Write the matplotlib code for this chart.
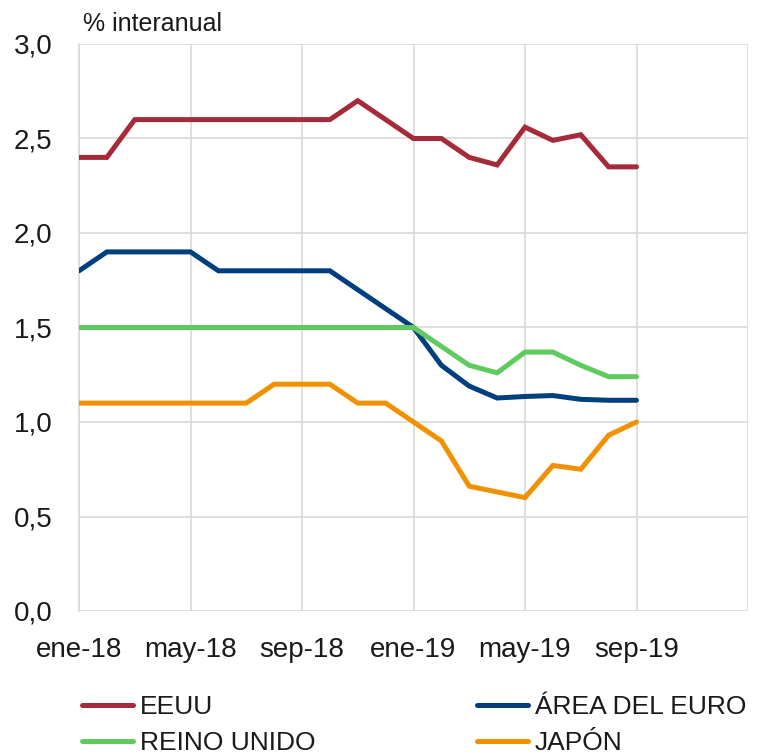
import matplotlib
matplotlib.use("Agg")
import matplotlib.pyplot as plt
from matplotlib.lines import Line2D

plt.rcParams['font.family'] = ['Liberation Sans', 'DejaVu Sans']

months = list(range(21))
tick_labels = ["ene-18", "may-18", "sep-18", "ene-19", "may-19", "sep-19"]

eeuu = [2.4, 2.4, 2.6, 2.6, 2.6, 2.6, 2.6, 2.6, 2.6, 2.6, 2.7, 2.6, 2.5, 2.5,
        2.4, 2.36, 2.56, 2.49, 2.52, 2.35, 2.35]
euro = [1.8, 1.9, 1.9, 1.9, 1.9, 1.8, 1.8, 1.8, 1.8, 1.8, 1.7, 1.6, 1.5, 1.3,
        1.19, 1.127, 1.135, 1.14, 1.12, 1.115, 1.115]
uk = [1.5, 1.5, 1.5, 1.5, 1.5, 1.5, 1.5, 1.5, 1.5, 1.5, 1.5, 1.5, 1.5, 1.4,
      1.3, 1.26, 1.37, 1.37, 1.3, 1.24, 1.24]
japan = [1.1, 1.1, 1.1, 1.1, 1.1, 1.1, 1.1, 1.2, 1.2, 1.2, 1.1, 1.1, 1.0, 0.9,
         0.66, 0.63, 0.6, 0.77, 0.75, 0.93, 1.0]

series = [("EEUU", eeuu, "#A52A3A"),
          ("ÁREA DEL EURO", euro, "#003F7F"),
          ("REINO UNIDO", uk, "#5ECB5E"),
          ("JAPÓN", japan, "#F29100")]

fig = plt.figure(figsize=(7.59, 7.55), dpi=100)
ax = fig.add_axes([79/759, 1-611/755, (748-79)/759, (611-44)/755])

for name, vals, col in series:
    ax.plot(months, vals, color=col, lw=3.6, solid_capstyle='round',
            solid_joinstyle='miter', zorder=3)

ax.set_xlim(0, 24)
ax.set_ylim(0, 3.0)
ax.set_xticks(range(0, 25, 4))
ax.set_xticklabels(tick_labels + [""])
yt = [0, 0.5, 1.0, 1.5, 2.0, 2.5, 3.0]
ax.set_yticks(yt)
ax.set_yticklabels([f"{v:.1f}".replace(".", ",") for v in yt])
ax.grid(True, color="#D9D9D9", lw=1.2, zorder=0)
for s in ["top", "right", "bottom"]:
    ax.spines[s].set_visible(False)
ax.spines["left"].set_color("#D9D9D9")
ax.spines["left"].set_linewidth(1.2)
ax.tick_params(length=0, labelsize=20, colors="#1a1a1a")
ax.tick_params(axis='x', pad=19)
ax.tick_params(axis='y', pad=19)

fig.text(83/759, 1-24/755, "% interanual", fontsize=18, va='center', ha='left', color="#1a1a1a")

handles = {n: Line2D([0], [0], color=c, lw=3.6, solid_capstyle='round') for n, _, c in series}

def add_leg(names, x):
    leg = fig.legend([handles[n] for n in names], names,
                     loc='center left', bbox_to_anchor=(x/759, 1-725/755), ncol=1,
                     frameon=False, fontsize=19, handlelength=1.95, handletextpad=0.25,
                     labelspacing=0.45, borderaxespad=0, borderpad=0)
    for t in leg.get_texts():
        t.set_color("#1a1a1a")
    return leg

add_leg(["EEUU", "REINO UNIDO"], 82)
add_leg(["ÁREA DEL EURO", "JAPÓN"], 477)

fig.savefig("out.png", dpi=100, facecolor="white")
